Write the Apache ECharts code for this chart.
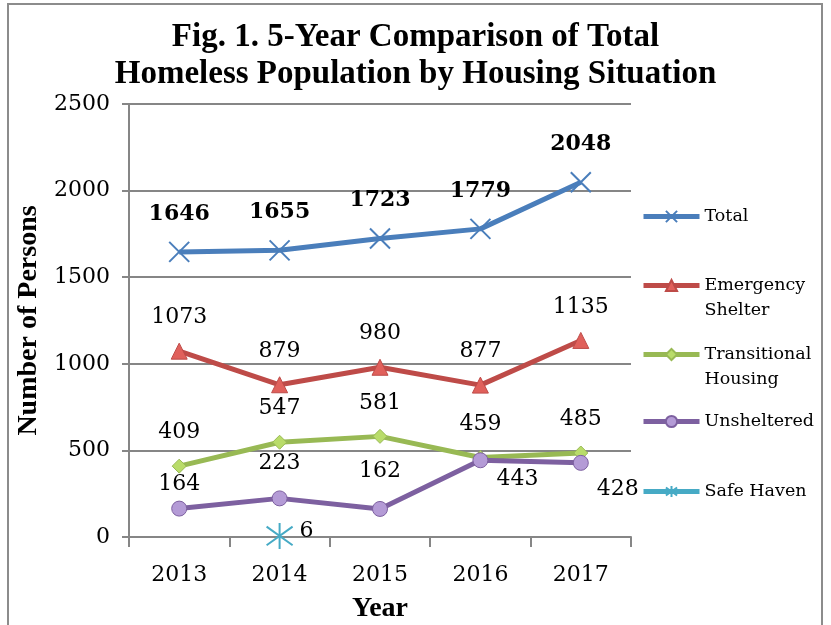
<!DOCTYPE html>
<html><head><meta charset="utf-8">
<script src="https://cdn.jsdelivr.net/npm/echarts@6/dist/echarts.min.js"></script>
<style>html,body{margin:0;padding:0;background:#fff}#c{width:831px;height:625px}</style>
</head><body><div id="c"></div>
<script>
const years = ['2013', '2014', '2015', '2016', '2017'];
const total = [1646, 1655, 1723, 1779, 2048];
const emergencyShelter = [1073, 879, 980, 877, 1135];
const transitionalHousing = [409, 547, 581, 459, 485];
const unsheltered = [164, 223, 162, 443, 428];
const safeHaven = [null, 6, null, null, null];
const yTicks = [0, 500, 1000, 1500, 2000, 2500];

const FONT = '"DejaVu Serif", "Liberation Serif", serif';
const TFONT = '"Liberation Serif", serif';
const chart = echarts.init(document.getElementById('c'), null, {renderer: 'canvas'});

const crossPath = 'path://M0,0L10,10M10,0L0,10';
const starPath = 'path://M0,0L10,10M10,0L0,10M5,-2L5,12';

function lbl(extra) {
  return Object.assign({show: true, fontFamily: FONT, fontSize: 22, color: '#000'}, extra);
}

const unshelteredLabels = [
  {distance: 5}, {distance: 16}, {distance: 19},
  {position: 'right', offset: [3, 19]}, {position: 'right', offset: [3, 26]}
];
const unshelteredData = unsheltered.map((v, i) => ({value: v, label: unshelteredLabels[i]}));

const legendDefs = [
  {name: 'Total', top: 199, two: false},
  {name: 'Emergency Shelter', top: 243, two: true},
  {name: 'Transitional Housing', top: 312, two: true},
  {name: 'Unsheltered', top: 404, two: false},
  {name: 'Safe Haven', top: 474, two: false}
];

const option = {
  animation: false,
  title: {
    text: 'Fig. 1. 5-Year Comparison of Total\nHomeless Population by Housing Situation',
    left: 'center', top: 14,
    textStyle: {fontFamily: TFONT, fontWeight: 'bold', fontSize: 33, lineHeight: 37, color: '#000'}
  },
  graphic: [{
    type: 'rect', shape: {x: 8, y: 4, width: 814, height: 640},
    style: {fill: 'none', stroke: '#8c8c8c', lineWidth: 2}, silent: true
  }],
  grid: {left: 129, right: 200, top: 104, bottom: 88, outerBoundsMode: 'none', containLabel: false},
  legend: legendDefs.map(l => ({
    data: [l.name], left: 636, top: l.top, orient: 'vertical',
    itemWidth: 56, itemHeight: 14, itemGap: 0,
    lineStyle: {width: 5},
    formatter: n => l.two ? '\n' + n.replace(' ', '\n') : n,
    textStyle: {fontFamily: FONT, fontSize: 17.5, lineHeight: 25, color: '#000'}
  })),
  xAxis: {
    type: 'category', data: years, boundaryGap: true,
    name: 'Year', nameLocation: 'middle', nameGap: 58,
    nameTextStyle: {fontFamily: TFONT, fontWeight: 'bold', fontSize: 28, color: '#000'},
    axisLine: {lineStyle: {color: '#868686', width: 2}},
    axisTick: {show: true, interval: 0, length: 10, lineStyle: {color: '#868686', width: 2}},
    axisLabel: {fontFamily: FONT, fontSize: 22, color: '#000', margin: 27}
  },
  yAxis: {
    type: 'value', min: yTicks[0], max: yTicks[yTicks.length - 1], interval: 500,
    name: 'Number of Persons', nameLocation: 'middle', nameGap: 80,
    nameTextStyle: {fontFamily: TFONT, fontWeight: 'bold', fontSize: 28, color: '#000'},
    axisLine: {show: true, lineStyle: {color: '#868686', width: 2}},
    axisTick: {show: true, length: 7, lineStyle: {color: '#868686', width: 2}},
    axisLabel: {fontFamily: FONT, fontSize: 22, color: '#000', margin: 19, formatter: v => String(v)},
    splitLine: {lineStyle: {color: '#868686', width: 2}}
  },
  series: [
    {
      name: 'Total', type: 'line', data: total, z: 5,
      symbol: crossPath, symbolSize: 20,
      lineStyle: {color: '#4a7ebb', width: 5},
      itemStyle: {color: '#4a7ebb', borderColor: '#4a7ebb', borderWidth: 2},
      label: lbl({position: 'top', distance: 16, fontWeight: 'bold'})
    },
    {
      name: 'Emergency Shelter', type: 'line', data: emergencyShelter,
      symbol: 'triangle', symbolSize: 16,
      lineStyle: {color: '#be4b48', width: 5},
      itemStyle: {color: '#e0605b', borderColor: '#be4b48', borderWidth: 1},
      label: lbl({position: 'top', distance: 14})
    },
    {
      name: 'Transitional Housing', type: 'line', data: transitionalHousing,
      symbol: 'diamond', symbolSize: 14,
      lineStyle: {color: '#98b954', width: 5},
      itemStyle: {color: '#b9dc6a', borderColor: '#98b954', borderWidth: 1},
      label: lbl({position: 'top', distance: 15})
    },
    {
      name: 'Unsheltered', type: 'line', data: unshelteredData,
      symbol: 'circle', symbolSize: 15,
      lineStyle: {color: '#7d60a0', width: 5},
      itemStyle: {color: '#b49bd6', borderColor: '#7d60a0', borderWidth: 1},
      label: lbl({position: 'top'})
    },
    {
      name: 'Safe Haven', type: 'line', data: safeHaven,
      symbol: starPath, symbolSize: 26,
      lineStyle: {color: '#46aac5', width: 5},
      itemStyle: {color: '#46aac5', borderColor: '#46aac5', borderWidth: 2},
      label: lbl({position: 'right', distance: 6, offset: [0, -5]})
    }
  ]
};
chart.setOption(option);
</script></body></html>
